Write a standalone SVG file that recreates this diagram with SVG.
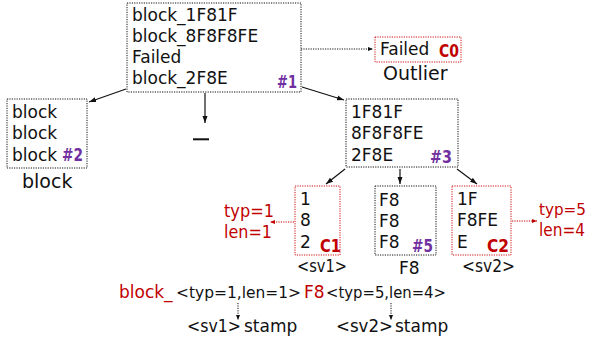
<svg xmlns="http://www.w3.org/2000/svg" width="590" height="343" viewBox="0 0 590 343">
<style>
text{font-family:"DejaVu Sans","Liberation Sans",sans-serif;font-size:17px;fill:#111}
.big{font-size:19px}
.r{fill:#c00000}
.tag{font-weight:bold;fill:#7030a0}
.tr{font-weight:bold;fill:#c00000}
.bx{fill:#fff;stroke:#111;stroke-width:1;stroke-dasharray:1.2 1.2}
.bxr{fill:#fff;stroke:#d01010;stroke-width:1;stroke-dasharray:1.2 1.2}
.ln{stroke:#111;stroke-width:1.2;fill:none}
.dl{stroke:#111;stroke-width:1;fill:none;stroke-dasharray:1.2 1.2}
.dr{stroke:#c00000;stroke-width:1;fill:none;stroke-dasharray:1.2 1.2}
</style>
<defs>
<marker id="ah" markerWidth="7" markerHeight="6" refX="7" refY="3" orient="auto" markerUnits="userSpaceOnUse"><path d="M0,0.5 L7,3 L0,5.5 Z" fill="#111"/></marker>
<marker id="ahs" markerWidth="5" markerHeight="5" refX="5" refY="2.5" orient="auto" markerUnits="userSpaceOnUse"><path d="M0,0.5 L5,2.5 L0,4.5 Z" fill="#111"/></marker>
<marker id="ahr" markerWidth="5" markerHeight="5" refX="5" refY="2.5" orient="auto" markerUnits="userSpaceOnUse"><path d="M0,0.5 L5,2.5 L0,4.5 Z" fill="#c00000"/></marker>
</defs>
<g id="connectors">
<line class="dl" x1="301" y1="49" x2="373" y2="49" marker-end="url(#ahs)"/>
<line class="ln" x1="126" y1="89" x2="89" y2="102" marker-end="url(#ah)"/>
<line class="ln" x1="205" y1="93" x2="205" y2="123" marker-end="url(#ah)"/>
<line class="ln" x1="302" y1="87" x2="344" y2="100" marker-end="url(#ah)"/>
<line class="ln" x1="345" y1="169" x2="326" y2="184" marker-end="url(#ah)"/>
<line class="ln" x1="400" y1="169" x2="400" y2="184" marker-end="url(#ah)"/>
<line class="ln" x1="457" y1="169" x2="477" y2="184" marker-end="url(#ah)"/>
<line class="dr" x1="294" y1="222" x2="270" y2="222" marker-end="url(#ahr)"/>
<line class="dr" x1="512" y1="221" x2="537" y2="221" marker-end="url(#ahr)"/>
<line class="dl" x1="238" y1="303" x2="238" y2="320" marker-end="url(#ahs)"/>
<line class="dl" x1="391" y1="303" x2="391" y2="320" marker-end="url(#ahs)"/>
</g>
<g id="n1">
<rect class="bx" x="127" y="3" width="174" height="89"/>
<text x="132" y="21">block_1F81F</text>
<text x="132" y="42">block_8F8F8FE</text>
<text x="132" y="63">Failed</text>
<text x="132" y="84">block_2F8E</text>
<text class="tag" x="277" y="88" textLength="20" lengthAdjust="spacingAndGlyphs">#1</text>
</g>
<g id="outlier">
<rect class="bxr" x="375" y="37" width="86" height="25"/>
<text x="380" y="55">Failed</text>
<text class="tr" x="439" y="57" textLength="20" lengthAdjust="spacingAndGlyphs">C0</text>
<text class="big" x="383" y="80">Outlier</text>
</g>
<g id="n2">
<rect class="bx" x="7" y="99" width="80" height="69"/>
<text x="12" y="118">block</text>
<text x="12" y="139">block</text>
<text x="12" y="161">block</text>
<text class="tag" x="62" y="161" textLength="21" lengthAdjust="spacingAndGlyphs">#2</text>
<text class="big" x="22" y="188">block</text>
</g>
<g id="empty">
<rect x="193" y="138.3" width="16" height="2" fill="#111"/>
</g>
<g id="n3">
<rect class="bx" x="346" y="99" width="112" height="68"/>
<text x="351" y="118">1F81F</text>
<text x="351" y="139">8F8F8FE</text>
<text x="351" y="161">2F8E</text>
<text class="tag" x="430" y="163" textLength="22" lengthAdjust="spacingAndGlyphs">#3</text>
</g>
<g id="sv1">
<rect class="bxr" x="295" y="186" width="45" height="69"/>
<text x="300" y="205">1</text>
<text x="300" y="226">8</text>
<text x="300" y="248">2</text>
<text class="tr" x="320" y="252" textLength="21" lengthAdjust="spacingAndGlyphs">C1</text>
<text x="297" y="272" textLength="50" lengthAdjust="spacingAndGlyphs">&lt;sv1&gt;</text>
<text class="r" x="224" y="217" textLength="50" lengthAdjust="spacingAndGlyphs">typ=1</text>
<text class="r" x="224" y="238" textLength="48" lengthAdjust="spacingAndGlyphs">len=1</text>
</g>
<g id="n5">
<rect class="bx" x="375" y="186" width="61" height="69"/>
<text x="379" y="206">F8</text>
<text x="379" y="227">F8</text>
<text x="379" y="248">F8</text>
<text class="tag" x="412" y="252" textLength="21" lengthAdjust="spacingAndGlyphs">#5</text>
<text x="399" y="274">F8</text>
</g>
<g id="sv2">
<rect class="bxr" x="452" y="186" width="59" height="69"/>
<text x="457" y="205">1F</text>
<text x="457" y="226">F8FE</text>
<text x="457" y="248">E</text>
<text class="tr" x="487" y="252" textLength="22" lengthAdjust="spacingAndGlyphs">C2</text>
<text x="462" y="272" textLength="53" lengthAdjust="spacingAndGlyphs">&lt;sv2&gt;</text>
<text class="r" x="539" y="215" style="font-size:16px" textLength="47" lengthAdjust="spacingAndGlyphs">typ=5</text>
<text class="r" x="539" y="236" textLength="46" lengthAdjust="spacingAndGlyphs">len=4</text>
</g>
<g id="stamp">
<text class="r" x="119" y="298">block_</text>
<text x="176" y="298" style="font-size:15.6px" textLength="125" lengthAdjust="spacingAndGlyphs">&lt;typ=1,len=1&gt;</text>
<text class="r" x="304" y="298">F8</text>
<text x="326" y="298" style="font-size:15.6px" textLength="120" lengthAdjust="spacingAndGlyphs">&lt;typ=5,len=4&gt;</text>
<text x="187" y="332" textLength="54" lengthAdjust="spacingAndGlyphs">&lt;sv1&gt;</text>
<text x="244" y="332">stamp</text>
<text x="336" y="332" textLength="57" lengthAdjust="spacingAndGlyphs">&lt;sv2&gt;</text>
<text x="395" y="332">stamp</text>
</g>
</svg>
